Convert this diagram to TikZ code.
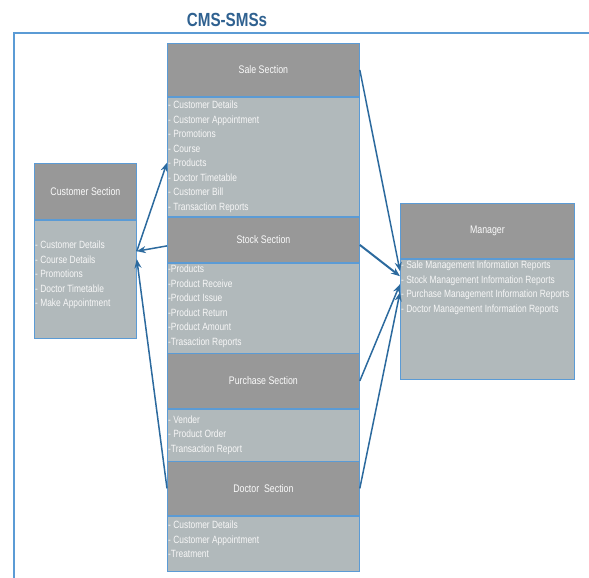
\documentclass[tikz,border=0pt]{standalone}
\usepackage{fontspec}
\usetikzlibrary{arrows.meta}
\newfontfamily\narrowsf[FakeStretch=0.8]{Liberation Sans}
\definecolor{headgray}{HTML}{989898}
\definecolor{bodygray}{HTML}{B1B9BB}
\definecolor{edgeblue}{HTML}{5B9BD5}
\definecolor{linkblue}{HTML}{2C6A9E}
\definecolor{titleblue}{HTML}{2F6190}
\tikzset{
    head/.style={draw=edgeblue,fill=headgray,line width=0.8pt,anchor=north west,inner sep=0pt,
        text=white!96!gray,font=\narrowsf\fontsize{11}{13}\selectfont},
    body/.style={draw=edgeblue,fill=bodygray,line width=0.8pt,anchor=north,inner sep=0pt},
    list/.style={text=white!94!gray,align=left,inner sep=1pt,font=\narrowsf\fontsize{10.5}{14.5}\selectfont},
    link/.style={linkblue,line width=1.5pt,-{Stealth[length=9pt,width=7pt]}},
    frame/.style={edgeblue,line width=1.6pt}
}

\begin{document}
\begin{tikzpicture}[x=1pt,y=-1pt]
\useasboundingbox (0,0) rectangle (589,578);
\node[font=\narrowsf\bfseries\fontsize{19}{21}\selectfont,text=titleblue] (title) at (227,20) {CMS-SMSs};
\draw[frame] (589,33) -| (14,578);

% customer side
\node[head,minimum width=102pt,minimum height=56pt] (custhead) at (34,163) {Customer Section};
\node[body,minimum width=102pt,minimum height=118pt] (custbody) at (custhead.south) {};
\node[list,anchor=west] (custlist) at ([yshift=4pt]custbody.west) {- Customer Details\\- Course Details\\- Promotions\\- Doctor Timetable\\- Make Appointment};

% middle column
\node[head,minimum width=192pt,minimum height=53pt] (salehead) at (167,43) {Sale Section};
\node[body,minimum width=192pt,minimum height=119pt] (salebody) at (salehead.south) {};
\node[list,anchor=west] (salelist) at (salebody.west) {- Customer Details\\- Customer Appointment\\- Promotions\\- Course\\- Products\\- Doctor Timetable\\- Customer Bill\\- Transaction Reports};

\node[head,minimum width=192pt,minimum height=45pt] (stockhead) at (167,217) {Stock Section};
\node[body,minimum width=192pt,minimum height=90pt] (stockbody) at (stockhead.south) {};
\node[list,anchor=north west] (stocklist) at ([yshift=-1pt]stockbody.north west) {-Products\\-Product Receive\\-Product Issue\\-Product Return\\-Product Amount\\-Trasaction Reports};

\node[head,minimum width=192pt,minimum height=55pt] (purchasehead) at (167,353) {Purchase Section};
\node[body,minimum width=192pt,minimum height=52pt] (purchasebody) at (purchasehead.south) {};
\node[list,anchor=west] (purchaselist) at (purchasebody.west) {- Vender\\- Product Order\\-Transaction Report};

\node[head,minimum width=192pt,minimum height=54pt] (doctorhead) at (167,461) {Doctor\ \ Section};
\node[body,minimum width=192pt,minimum height=55pt] (doctorbody) at (doctorhead.south) {};
\node[list,anchor=west] (doctorlist) at ([yshift=4pt]doctorbody.west) {- Customer Details\\- Customer Appointment\\-Treatment};

% manager side
\node[head,minimum width=174pt,minimum height=55pt] (manhead) at (400,203) {Manager};
\node[body,minimum width=174pt,minimum height=120pt] (manbody) at (manhead.south) {};
\node[list,anchor=north west] (manlist) at ([yshift=-1pt]manbody.north west) {- Sale Management Information Reports\\- Stock Management Information Reports\\- Purchase Management Information Reports\\- Doctor Management Information Reports};

% links
\draw[link] ([yshift=-6pt]stockhead.west) -- ([yshift=28pt]custbody.east);
\draw[link] ([yshift=28pt]custbody.east) -- ([yshift=-6pt]salebody.west);
\draw[link] (doctorhead.west) -- ([yshift=20pt]custbody.east);
\draw[link] (salehead.east) -- ([yshift=48pt]manbody.west);
\draw[link,line width=2pt] ([yshift=-5pt]stockhead.east) -- ([yshift=43pt]manbody.west);
\draw[link] (purchasehead.east) -- ([yshift=35pt]manbody.west);
\draw[link] (doctorhead.east) -- ([yshift=27pt]manbody.west);
\end{tikzpicture}
\end{document}
